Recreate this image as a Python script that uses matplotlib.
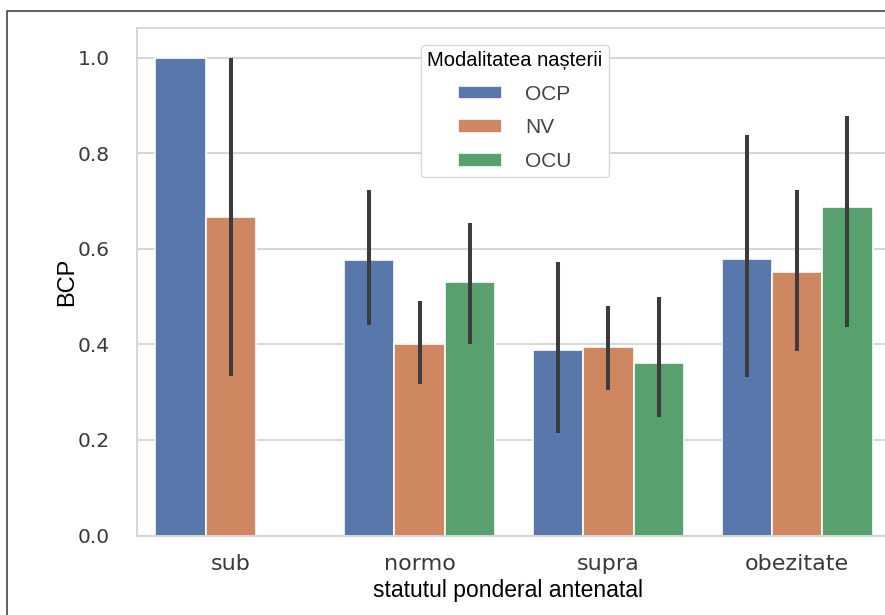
#!/usr/bin/env python3
import numpy as np
import matplotlib
matplotlib.use("Agg")
import matplotlib.pyplot as plt
from matplotlib.patches import Rectangle

# date
categorii = ["sub", "normo", "supra", "obezitate"]
grupe = ["OCP", "NV", "OCU"]

ocp = [1.0, 0.576, 0.388, 0.579]
nv = [0.667, 0.400, 0.395, 0.552]
ocu = [np.nan, 0.530, 0.360, 0.687]

ocp_lo = [1.0, 0.440, 0.214, 0.332]
ocp_hi = [1.0, 0.723, 0.573, 0.838]
nv_lo = [0.333, 0.318, 0.304, 0.387]
nv_hi = [1.0, 0.491, 0.480, 0.724]
ocu_lo = [np.nan, 0.400, 0.249, 0.437]
ocu_hi = [np.nan, 0.653, 0.500, 0.878]

culori = ["#5877AB", "#CF8761", "#58A06D"]

def main():
    W, H = 885, 615
    fig = plt.figure(figsize=(W / 100, H / 100), dpi=100)

    # axa (partea dreapta e taiata in imaginea originala)
    left, right, bottom, top = 136.5, 891.5, 535.5, 28
    ax = fig.add_axes([left / W, 1 - bottom / H, (right - left) / W, (bottom - top) / H])

    valori = [ocp, nv, ocu]
    low = [ocp_lo, nv_lo, ocu_lo]
    high = [ocp_hi, nv_hi, ocu_hi]

    x = np.arange(len(categorii))
    latime = 0.8 / 3
    for i, g in enumerate(grupe):
        pos = x + (i - 1) * latime
        ax.bar(pos, valori[i], width=latime, color=culori[i], label=g,
               edgecolor="white", linewidth=1.2, zorder=2)
        ax.vlines(pos, low[i], high[i], color="#3c3c3c", linewidth=2.9, zorder=3)

    ax.set_xlim(-0.5, len(categorii) - 0.5)
    ax.set_ylim(0, 1.062)
    ax.set_yticks([0.0, 0.2, 0.4, 0.6, 0.8, 1.0])
    ax.set_yticklabels(["0.0", "0.2", "0.4", "0.6", "0.8", "1.0"])
    ax.set_xticks(x)
    ax.set_xticklabels(categorii)
    ax.tick_params(axis="y", length=0, pad=19, labelsize=14.5, labelcolor="#3a3a3a")
    ax.tick_params(axis="x", length=0, pad=13, labelsize=16, labelcolor="#3a3a3a")

    ax.grid(axis="y", color="#cfcfcf", linewidth=1.2, zorder=0)
    ax.set_axisbelow(True)
    for s in ax.spines.values():
        s.set_color("#d2d2d2")
        s.set_linewidth(1.3)

    ax.set_ylabel("BCP", family=["Liberation Sans", "DejaVu Sans"], fontsize=17)
    ax.yaxis.set_label_coords(-0.0775, 0.5)
    ax.set_xlabel("statutul ponderal antenatal", family=["Liberation Sans Narrow", "Liberation Sans", "DejaVu Sans"],
                  fontsize=16.5)
    ax.xaxis.set_label_coords(0.492, -0.085)

    leg = ax.legend(title="Modalitatea nașterii", loc="upper left",
                    bbox_to_anchor=(421 / W, 1 - 45 / H), bbox_transform=fig.transFigure,
                    borderaxespad=0, fontsize=15, title_fontsize=14.5,
                    handlelength=2.1, handleheight=0.65, handletextpad=1.1,
                    labelspacing=0.7, borderpad=0.3, fancybox=True,
                    framealpha=1, edgecolor="#d8d8d8")
    leg.get_title().set_family(["Liberation Sans Narrow", "Liberation Sans", "DejaVu Sans"])
    leg.get_frame().set_linewidth(1.0)
    for t in leg.get_texts():
        t.set_color("#444444")
        t.set_family(["Liberation Sans", "DejaVu Sans"])

    # chenarul paginii (sus si stanga)
    fig.add_artist(Rectangle((7 / W, -0.5), 2.0, 1.5 - 11 / H, transform=fig.transFigure,
                             fill=False, edgecolor="#444444", linewidth=1.2))

    fig.savefig("out.png", dpi=100)

if __name__ == "__main__":
    main()
